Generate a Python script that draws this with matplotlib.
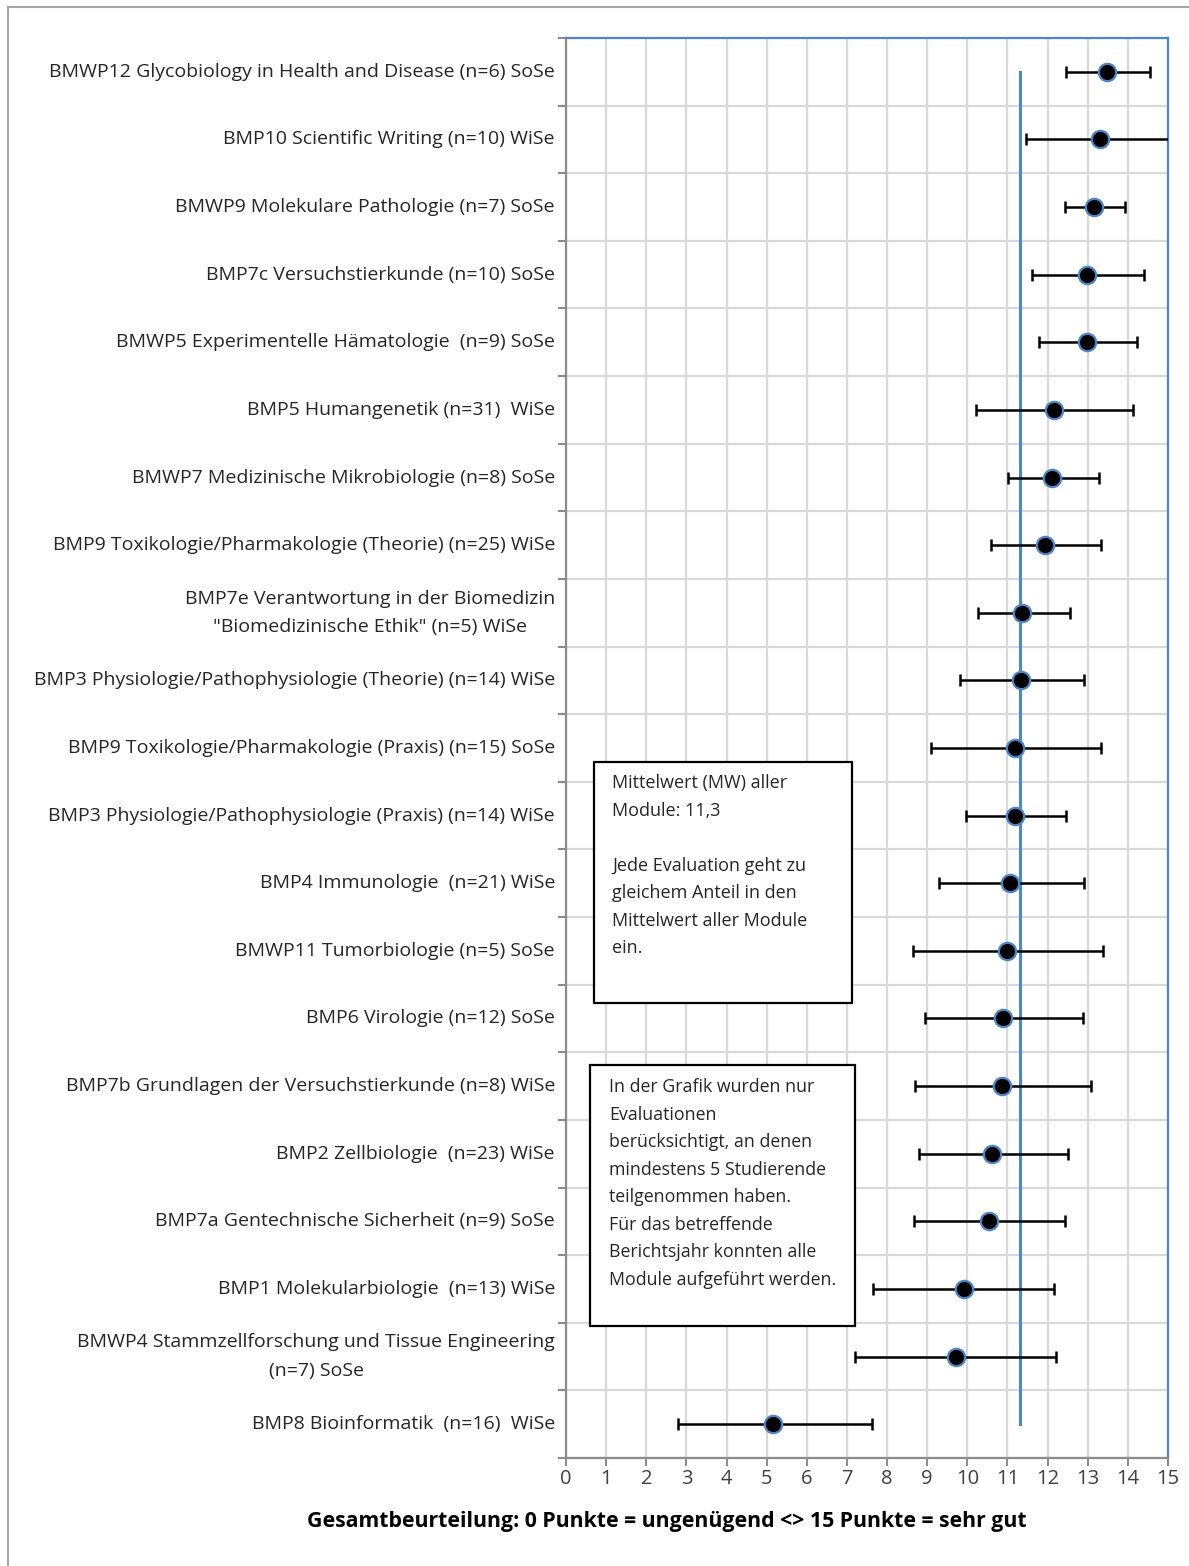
import numpy as np
import matplotlib
matplotlib.use("Agg")
import matplotlib.pyplot as plt
from matplotlib.patches import Rectangle
from matplotlib.lines import Line2D

plt.rcParams['font.family'] = ['Open Sans', 'DejaVu Sans']

# Module labels (top to bottom)
modules = [
    "BMWP12 Glycobiology in Health and Disease (n=6) SoSe",
    "BMP10 Scientific Writing (n=10) WiSe",
    "BMWP9 Molekulare Pathologie (n=7) SoSe",
    "BMP7c Versuchstierkunde (n=10) SoSe",
    "BMWP5 Experimentelle Hämatologie  (n=9) SoSe",
    "BMP5 Humangenetik (n=31)  WiSe",
    "BMWP7 Medizinische Mikrobiologie (n=8) SoSe",
    "BMP9 Toxikologie/Pharmakologie (Theorie) (n=25) WiSe",
    "BMP7e Verantwortung in der Biomedizin\n\"Biomedizinische Ethik\" (n=5) WiSe",
    "BMP3 Physiologie/Pathophysiologie (Theorie) (n=14) WiSe",
    "BMP9 Toxikologie/Pharmakologie (Praxis) (n=15) SoSe",
    "BMP3 Physiologie/Pathophysiologie (Praxis) (n=14) WiSe",
    "BMP4 Immunologie  (n=21) WiSe",
    "BMWP11 Tumorbiologie (n=5) SoSe",
    "BMP6 Virologie (n=12) SoSe",
    "BMP7b Grundlagen der Versuchstierkunde (n=8) WiSe",
    "BMP2 Zellbiologie  (n=23) WiSe",
    "BMP7a Gentechnische Sicherheit (n=9) SoSe",
    "BMP1 Molekularbiologie  (n=13) WiSe",
    "BMWP4 Stammzellforschung und Tissue Engineering\n(n=7) SoSe",
    "BMP8 Bioinformatik  (n=16)  WiSe",
]

# mean score and error bar ends
means = [13.49, 13.31, 13.16, 12.97, 12.97, 12.15, 12.12, 11.94, 11.37, 11.34,
         11.19, 11.19, 11.07, 10.99, 10.89, 10.86, 10.62, 10.54, 9.91, 9.71, 5.17]
err_low = [12.46, 11.45, 12.43, 11.61, 11.79, 10.21, 11.01, 10.59, 10.27, 9.82,
           9.09, 9.97, 9.30, 8.64, 8.94, 8.70, 8.80, 8.67, 7.65, 7.21, 2.78]
err_high = [14.56, 15.17, 13.93, 14.41, 14.23, 14.14, 13.28, 13.34, 12.56, 12.91,
            13.34, 12.47, 12.91, 13.37, 12.89, 13.07, 12.50, 12.44, 12.17, 12.21, 7.63]
overall_mean = 11.3

note1 = ("Mittelwert (MW) aller\nModule: 11,3\n\nJede Evaluation geht zu\n"
         "gleichem Anteil in den\nMittelwert aller Module\nein.")
note2 = ("In der Grafik wurden nur\nEvaluationen\nberücksichtigt, an denen\n"
         "mindestens 5 Studierende\nteilgenommen haben.\nFür das betreffende\n"
         "Berichtsjahr konnten alle\nModule aufgeführt werden.")

blue = "#4F86C6"
grid_col = "#D9D9D9"
axis_col = "#8C8C8C"

fig = plt.figure(figsize=(11.89, 15.66), dpi=100)
ax = fig.add_axes([566 / 1189, 1 - 1458 / 1566, 602 / 1189, 1420 / 1566])

y = np.arange(len(modules))
m = np.array(means)
xerr = np.vstack([m - np.array(err_low), np.array(err_high) - m])

ax.plot([overall_mean] * len(y), y, color=blue, lw=2.2, zorder=3)
ax.errorbar(m, y, xerr=xerr, fmt="none", ecolor="black", elinewidth=1.8,
            capsize=4.5, capthick=1.8, zorder=4)
ax.plot(m, y, "o", color="black", markersize=12.5, markeredgecolor=blue,
        markeredgewidth=1.6, zorder=5)

ax.set_xlim(0, 15)
ax.set_ylim(len(modules) - 0.5, -0.5)
ax.set_xticks(range(16))
ax.set_xticklabels([str(i) for i in range(16)], fontsize=14.5, color="#404040")
ax.set_yticks(y)
ax.set_yticklabels(modules, fontsize=14, color="#262626", multialignment="center")
for lbl in ax.get_yticklabels():
    lbl.set_linespacing(1.75)
    lbl.set_verticalalignment("center")
ax.set_yticks(np.arange(-0.5, len(modules)), minor=True)
ax.tick_params(axis="y", which="major", length=0, pad=8)
ax.tick_params(axis="y", which="minor", length=6, width=1.5, color=axis_col)
ax.tick_params(axis="x", which="major", length=6, width=1.5, color=axis_col, pad=2)

ax.grid(True, axis="x", which="major", color=grid_col, lw=1.6, zorder=0)
ax.grid(True, axis="y", which="minor", color=grid_col, lw=1.6, zorder=0)
ax.set_axisbelow(True)

for side in ["left", "bottom"]:
    ax.spines[side].set_color(axis_col)
    ax.spines[side].set_linewidth(1.6)
for side in ["top", "right"]:
    ax.spines[side].set_color(blue)
    ax.spines[side].set_linewidth(1.6)

# note boxes
fig.add_artist(Rectangle((594 / 1189, 1 - 1003 / 1566), 258 / 1189, 241 / 1566,
                         transform=fig.transFigure, facecolor="white",
                         edgecolor="black", lw=1.6, zorder=10))
fig.text(612 / 1189, 1 - 774 / 1566, note1, fontsize=13, va="top", ha="left",
         color="#262626", linespacing=1.68, zorder=11)
fig.add_artist(Rectangle((590 / 1189, 1 - 1326 / 1566), 265 / 1189, 261 / 1566,
                         transform=fig.transFigure, facecolor="white",
                         edgecolor="black", lw=1.6, zorder=10))
fig.text(609 / 1189, 1 - 1078 / 1566, note2, fontsize=12.8, va="top", ha="left",
         color="#262626", linespacing=1.68, zorder=11)

fig.text(667 / 1189, 1 - 1521 / 1566,
         "Gesamtbeurteilung: 0 Punkte = ungenügend <> 15 Punkte = sehr gut",
         fontsize=15.3, fontweight="bold", ha="center", va="center", color="black")

# outer frame
fig.add_artist(Line2D([8 / 1189, 8 / 1189], [0, 1 - 7 / 1566],
                      transform=fig.transFigure, color="#A6A6A6", lw=1.5))
fig.add_artist(Line2D([8 / 1189, 1], [1 - 7 / 1566, 1 - 7 / 1566],
                      transform=fig.transFigure, color="#A6A6A6", lw=1.5))

fig.savefig("out.png", dpi=100)
